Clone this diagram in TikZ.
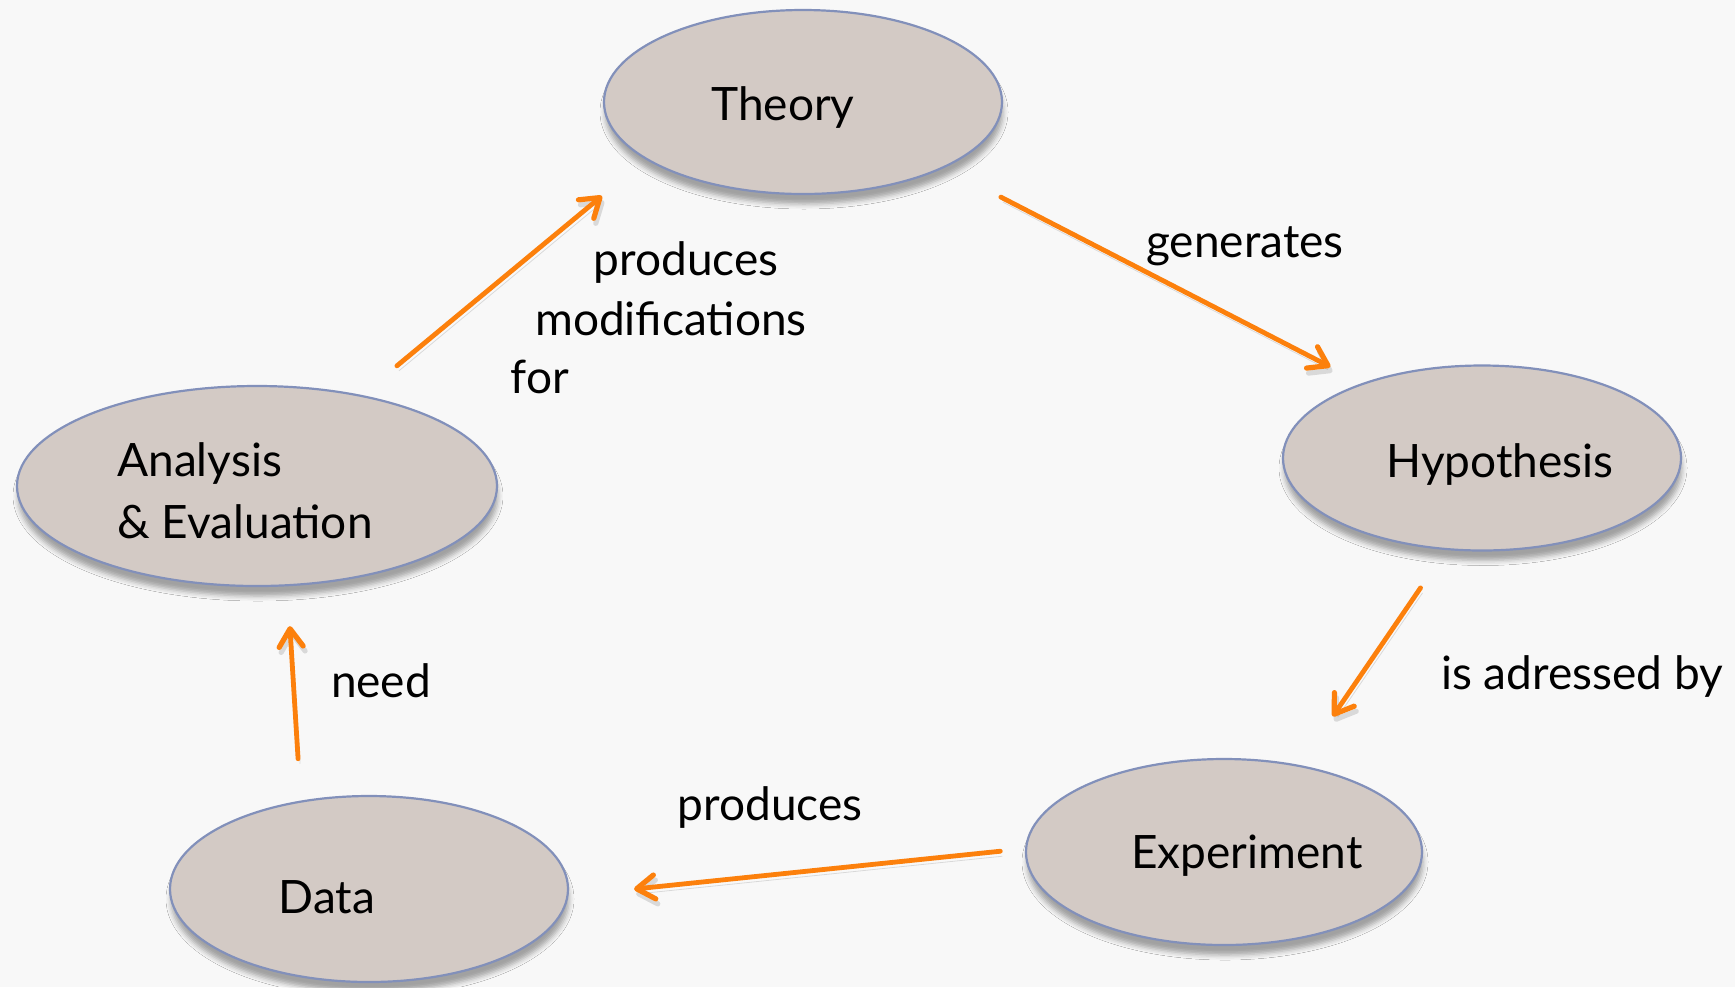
\documentclass[tikz,border=0pt]{standalone}
\usepackage{fontspec}
\setmainfont{Lato}
\usetikzlibrary{arrows.meta,shapes.geometric,shadows.blur}

\definecolor{bgcol}{RGB}{248,248,248}
\definecolor{blobfill}{RGB}{211,202,197}
\definecolor{blobline}{RGB}{130,144,186}
\definecolor{arrorange}{RGB}{252,128,12}

\tikzset{
  blob/.style={ellipse, fill=blobfill, draw=blobline, line width=1.1pt, inner sep=0pt, outer sep=0pt,
    blur shadow={shadow xshift=0.5pt, shadow yshift=-5pt, shadow blur radius=2.5pt, shadow opacity=35}},
  inside/.style={anchor=base, inner sep=0pt, font=\fontsize{23}{31}\selectfont},
  word/.style={anchor=base, inner sep=0pt, font=\fontsize{23}{31}\selectfont},
  flow/.style={draw=arrorange, line width=2.4pt, line cap=round,
    -{Straight Barb[length=9pt,width=12pt,line width=2.6pt,round]},
    preaction={draw=black, opacity=0.12, transform canvas={xshift=1pt,yshift=-2.5pt}}}
}

\begin{document}
\begin{tikzpicture}[x=0.5pt,y=-0.5pt]
                \fill[bgcol] (0,0) rectangle (1735,987);
                \useasboundingbox (0,0) rectangle (1735,987);

                % the five stages
                \node[blob, minimum width=199pt, minimum height=92pt] (the) at (803,102) {};
                \node[blob, minimum width=199pt, minimum height=92.5pt] (hyp) at (1482,458) {};
                \node[blob, minimum width=198pt, minimum height=93pt] (exp) at (1224,852) {};
                \node[blob, minimum width=199pt, minimum height=93pt] (dat) at (369,889) {};
                \node[blob, minimum width=240pt, minimum height=100pt] (ana) at (257,486) {};

                \node[inside] (theT) at ([xshift=-10pt,yshift=-9pt]the.center) {Theory};
                \node[inside] (hypT) at ([xshift=9pt,yshift=-9.5pt]hyp.center) {Hypothesis};
                \node[inside] (expT) at ([xshift=11.5pt,yshift=-8pt]exp.center) {Experiment};
                \node[inside] (datT) at ([xshift=-21pt,yshift=-12pt]dat.center) {Data};
                \node[inside, anchor=base west, align=left] (anaT) at ([xshift=-70pt,yshift=-26pt]ana.center) {Analysis\\\& Evaluation};

                % arrows round the cycle
                \draw[flow, shorten <=23.5pt, shorten >=29pt] (ana.41) -- (the.200.7);
                \draw[flow, shorten <=32.5pt, shorten >=18.5pt] (the.335.1) -- (hyp.148.4);
                \draw[flow, shorten <=23.5pt, shorten >=30pt] (hyp.249.6) -- (exp.49.6);
                \draw[flow, shorten <=13pt, shorten >=33.5pt] (exp.179.6) -- (dat.358.1);
                \draw[flow, shorten <=21.5pt, shorten >=20.5pt] (dat.128.2) -- (ana.287.8);

                % arrow labels
                \node[word] (gen) at (1245,257) {generates};
                \node[word] (addr) at (1582,689) {is adressed by};
                \node[word] (prodB) at (770,820) {produces};
                \node[word] (need) at (381,697) {need};
                \node[word] (prodA) at (686,275) {produces};
                \node[word] (modif) at (671,335) {modifications};
                \node[word] (forw) at (540,393) {for};
\end{tikzpicture}
\end{document}
